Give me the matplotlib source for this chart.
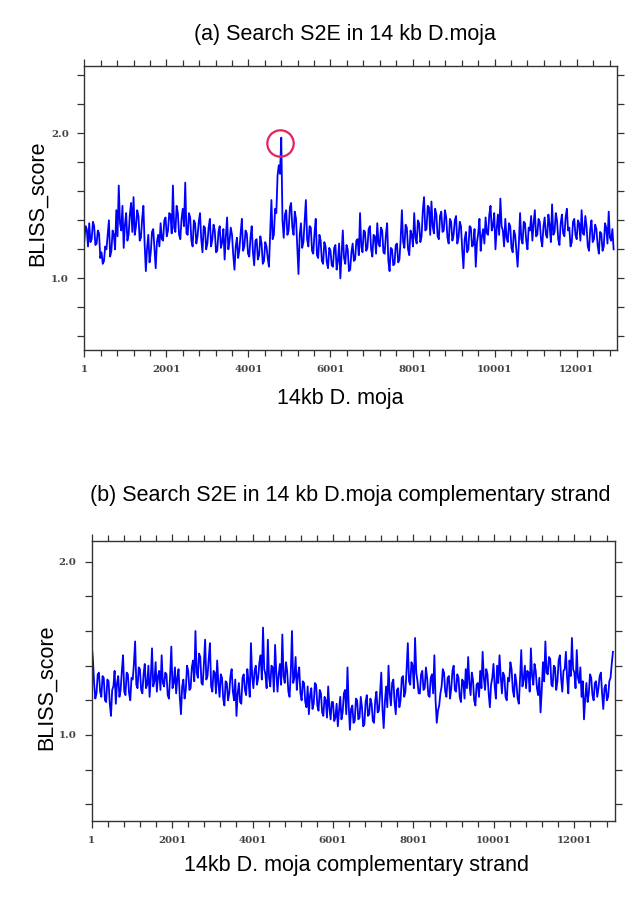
import numpy as np
import matplotlib.pyplot as plt
from matplotlib.ticker import FixedLocator, FixedFormatter

# BLISS score along the 14 kb D. moja sequence, one value every 30 bp
score_fwd = [
    1.26, 1.36, 1.34, 1.22, 1.38, 1.25, 1.27, 1.39, 1.36, 1.23, 1.24, 1.33, 1.31, 1.14, 1.18, 1.10, 1.12, 1.22, 1.20, 1.30,
    1.40, 1.15, 1.19, 1.33, 1.30, 1.20, 1.47, 1.29, 1.64, 1.38, 1.33, 1.50, 1.21, 1.37, 1.45, 1.26, 1.30, 1.44, 1.52, 1.32,
    1.56, 1.30, 1.36, 1.47, 1.43, 1.26, 1.28, 1.41, 1.50, 1.24, 1.05, 1.21, 1.30, 1.11, 1.18, 1.32, 1.34, 1.20, 1.07, 1.25,
    1.30, 1.22, 1.38, 1.27, 1.26, 1.40, 1.42, 1.29, 1.33, 1.45, 1.44, 1.31, 1.64, 1.35, 1.32, 1.50, 1.45, 1.30, 1.27, 1.41,
    1.48, 1.36, 1.66, 1.31, 1.30, 1.45, 1.42, 1.26, 1.22, 1.40, 1.38, 1.24, 1.29, 1.39, 1.45, 1.27, 1.18, 1.36, 1.35, 1.20,
    1.24, 1.35, 1.41, 1.22, 1.27, 1.37, 1.33, 1.18, 1.19, 1.32, 1.36, 1.21, 1.25, 1.34, 1.13, 1.29, 1.42, 1.20, 1.26, 1.35,
    1.30, 1.16, 1.06, 1.22, 1.28, 1.14, 1.20, 1.31, 1.41, 1.19, 1.22, 1.33, 1.31, 1.17, 1.15, 1.28, 1.36, 1.18, 1.09, 1.26,
    1.27, 1.13, 1.16, 1.29, 1.24, 1.10, 1.12, 1.25, 1.22, 1.14, 1.08, 1.31, 1.54, 1.27, 1.30, 1.48, 1.45, 1.71, 1.78, 1.72,
    1.97, 1.40, 1.28, 1.44, 1.47, 1.30, 1.33, 1.49, 1.52, 1.35, 1.30, 1.46, 1.41, 1.22, 1.03, 1.30, 1.38, 1.21, 1.25, 1.39,
    1.54, 1.27, 1.22, 1.36, 1.35, 1.19, 1.17, 1.31, 1.41, 1.16, 1.14, 1.30, 1.26, 1.12, 1.10, 1.25, 1.22, 1.11, 1.07, 1.21,
    1.19, 1.09, 1.08, 1.21, 1.23, 1.06, 1.12, 1.24, 1.00, 1.16, 1.33, 1.14, 1.10, 1.23, 1.20, 1.05, 1.06, 1.18, 1.24, 1.12,
    1.13, 1.26, 1.27, 1.16, 1.45, 1.22, 1.18, 1.33, 1.32, 1.19, 1.21, 1.34, 1.36, 1.20, 1.15, 1.30, 1.29, 1.17, 1.38, 1.24,
    1.22, 1.35, 1.33, 1.18, 1.17, 1.30, 1.38, 1.12, 1.05, 1.21, 1.20, 1.09, 1.10, 1.23, 1.24, 1.11, 1.13, 1.27, 1.47, 1.25,
    1.21, 1.37, 1.35, 1.20, 1.16, 1.33, 1.30, 1.22, 1.45, 1.28, 1.24, 1.40, 1.38, 1.25, 1.29, 1.47, 1.56, 1.33, 1.34, 1.50,
    1.49, 1.30, 1.53, 1.36, 1.31, 1.48, 1.44, 1.29, 1.27, 1.43, 1.46, 1.32, 1.33, 1.47, 1.42, 1.28, 1.24, 1.41, 1.39, 1.26,
    1.30, 1.40, 1.43, 1.24, 1.28, 1.39, 1.36, 1.20, 1.07, 1.27, 1.32, 1.18, 1.20, 1.36, 1.35, 1.22, 1.23, 1.34, 1.08, 1.25,
    1.31, 1.41, 1.19, 1.29, 1.34, 1.24, 1.42, 1.31, 1.30, 1.44, 1.50, 1.33, 1.36, 1.45, 1.20, 1.34, 1.44, 1.30, 1.55, 1.36,
    1.33, 1.22, 1.41, 1.28, 1.25, 1.38, 1.36, 1.21, 1.18, 1.33, 1.30, 1.19, 1.08, 1.24, 1.45, 1.27, 1.24, 1.39, 1.38, 1.26,
    1.20, 1.35, 1.33, 1.43, 1.26, 1.38, 1.47, 1.29, 1.30, 1.41, 1.39, 1.27, 1.22, 1.36, 1.42, 1.30, 1.28, 1.44, 1.37, 1.25,
    1.51, 1.30, 1.32, 1.45, 1.40, 1.27, 1.23, 1.38, 1.44, 1.31, 1.29, 1.42, 1.48, 1.33, 1.35, 1.22, 1.25, 1.39, 1.41, 1.30,
    1.27, 1.40, 1.38, 1.26, 1.47, 1.31, 1.30, 1.43, 1.36, 1.22, 1.19, 1.34, 1.40, 1.25, 1.27, 1.37, 1.34, 1.23, 1.17, 1.32,
    1.31, 1.19, 1.22, 1.38, 1.35, 1.24, 1.46, 1.28, 1.26, 1.34, 1.20,
]

# same scan on the complementary strand
score_rev = [
    1.52, 1.44, 1.30, 1.21, 1.24, 1.35, 1.36, 1.25, 1.22, 1.34, 1.33, 1.20, 1.19, 1.32, 1.31, 1.18, 1.11, 1.26, 1.28, 1.37,
    1.18, 1.30, 1.34, 1.22, 1.26, 1.37, 1.46, 1.25, 1.23, 1.36, 1.35, 1.24, 1.20, 1.33, 1.32, 1.41, 1.54, 1.29, 1.27, 1.39,
    1.38, 1.26, 1.24, 1.35, 1.41, 1.27, 1.29, 1.40, 1.22, 1.33, 1.50, 1.28, 1.31, 1.42, 1.25, 1.34, 1.37, 1.26, 1.46, 1.30,
    1.28, 1.36, 1.35, 1.23, 1.21, 1.34, 1.51, 1.27, 1.30, 1.39, 1.24, 1.33, 1.38, 1.22, 1.12, 1.28, 1.32, 1.21, 1.26, 1.40,
    1.37, 1.26, 1.27, 1.39, 1.43, 1.31, 1.60, 1.36, 1.33, 1.47, 1.45, 1.30, 1.29, 1.41, 1.55, 1.32, 1.34, 1.44, 1.53, 1.28,
    1.25, 1.37, 1.36, 1.24, 1.43, 1.30, 1.22, 1.35, 1.33, 1.21, 1.17, 1.31, 1.30, 1.20, 1.24, 1.34, 1.38, 1.25, 1.20, 1.32,
    1.11, 1.24, 1.30, 1.19, 1.18, 1.33, 1.35, 1.26, 1.23, 1.38, 1.31, 1.22, 1.53, 1.34, 1.27, 1.37, 1.40, 1.29, 1.33, 1.42,
    1.46, 1.32, 1.62, 1.38, 1.35, 1.27, 1.55, 1.33, 1.28, 1.40, 1.39, 1.25, 1.52, 1.36, 1.25, 1.35, 1.41, 1.29, 1.58, 1.34,
    1.30, 1.42, 1.37, 1.25, 1.22, 1.36, 1.60, 1.30, 1.33, 1.45, 1.26, 1.35, 1.39, 1.24, 1.20, 1.31, 1.30, 1.19, 1.16, 1.28,
    1.12, 1.23, 1.27, 1.15, 1.18, 1.30, 1.29, 1.17, 1.14, 1.26, 1.24, 1.13, 1.11, 1.22, 1.20, 1.10, 1.28, 1.16, 1.09, 1.19,
    1.19, 1.08, 1.10, 1.18, 1.05, 1.14, 1.22, 1.09, 1.13, 1.24, 1.26, 1.12, 1.39, 1.17, 1.03, 1.15, 1.17, 1.07, 1.08, 1.21,
    1.20, 1.09, 1.10, 1.22, 1.16, 1.05, 1.06, 1.19, 1.23, 1.11, 1.12, 1.21, 1.18, 1.08, 1.07, 1.20, 1.25, 1.13, 1.14, 1.24,
    1.36, 1.15, 1.04, 1.19, 1.28, 1.16, 1.40, 1.24, 1.17, 1.30, 1.32, 1.19, 1.12, 1.26, 1.27, 1.16, 1.20, 1.33, 1.34, 1.22,
    1.25, 1.38, 1.53, 1.31, 1.29, 1.42, 1.40, 1.27, 1.56, 1.36, 1.31, 1.24, 1.24, 1.35, 1.37, 1.26, 1.27, 1.39, 1.33, 1.23,
    1.22, 1.33, 1.35, 1.24, 1.46, 1.20, 1.07, 1.14, 1.17, 1.24, 1.28, 1.38, 1.36, 1.25, 1.22, 1.33, 1.34, 1.21, 1.27, 1.37,
    1.40, 1.26, 1.25, 1.35, 1.33, 1.22, 1.19, 1.32, 1.31, 1.21, 1.38, 1.27, 1.45, 1.30, 1.23, 1.36, 1.32, 1.20, 1.17, 1.29,
    1.30, 1.22, 1.37, 1.27, 1.48, 1.33, 1.26, 1.38, 1.35, 1.24, 1.16, 1.29, 1.33, 1.41, 1.28, 1.21, 1.40, 1.30, 1.46, 1.34,
    1.24, 1.36, 1.34, 1.22, 1.20, 1.33, 1.31, 1.42, 1.38, 1.26, 1.22, 1.35, 1.30, 1.21, 1.18, 1.32, 1.49, 1.28, 1.32, 1.40,
    1.27, 1.37, 1.36, 1.25, 1.50, 1.34, 1.29, 1.41, 1.37, 1.27, 1.23, 1.33, 1.13, 1.26, 1.42, 1.31, 1.54, 1.36, 1.35, 1.45,
    1.44, 1.29, 1.28, 1.40, 1.39, 1.26, 1.31, 1.43, 1.46, 1.33, 1.25, 1.37, 1.38, 1.48, 1.33, 1.24, 1.43, 1.34, 1.56, 1.38,
    1.36, 1.27, 1.49, 1.33, 1.30, 1.39, 1.22, 1.31, 1.09, 1.21, 1.30, 1.19, 1.24, 1.35, 1.33, 1.23, 1.20, 1.30, 1.31, 1.22,
    1.27, 1.34, 1.36, 1.24, 1.15, 1.27, 1.29, 1.20, 1.22, 1.31, 1.33, 1.41, 1.48,
]

step = 30
pos_fwd = 1 + step * np.arange(len(score_fwd))
pos_rev = 1 + step * np.arange(len(score_rev))

# highlighted S2E hit on the forward strand
hit_pos = 4771
hit_score = 1.93

xticks = [1, 2001, 4001, 6001, 8001, 10001, 12001]
minor_x = list(range(1, 13000, 400))
label_font = dict(family="Liberation Sans", fontsize=15.5)
tick_font = dict(family="DejaVu Serif", size=7.4, weight="bold")

fig = plt.figure(figsize=(6.42, 8.97), dpi=100)
ax1 = fig.add_axes([0.1313, 0.6098, 0.8293, 0.3166])
ax2 = fig.add_axes([0.1428, 0.0847, 0.8152, 0.3122])


def style_axis(ax, ylim, xmax):
    ax.set_xlim(1, xmax)
    ax.set_ylim(*ylim)
    yt = np.round(np.arange(0.6, ylim[1], 0.2), 1)
    ax.yaxis.set_major_locator(FixedLocator(yt))
    ax.yaxis.set_major_formatter(FixedFormatter(
        ["%.1f" % v if v in (1.0, 2.0) else "" for v in yt]))
    ax.xaxis.set_major_locator(FixedLocator(xticks))
    ax.xaxis.set_minor_locator(FixedLocator(minor_x))
    ax.set_xticklabels([str(v) for v in xticks])
    ax.tick_params(which="both", direction="out", top=True, right=True,
                   colors="#333333", width=0.9, pad=6)
    ax.tick_params(which="major", length=5)
    ax.tick_params(which="minor", length=4)
    for lab in ax.get_xticklabels() + ax.get_yticklabels():
        lab.set_fontfamily(tick_font["family"])
        lab.set_fontsize(tick_font["size"])
        lab.set_fontweight(tick_font["weight"])
        lab.set_color("#444444")
    for sp in ax.spines.values():
        sp.set_color("#333333")
        sp.set_linewidth(1.0)


ax1.plot(pos_fwd, score_fwd, color="#0000ff", lw=1.3)
ax1.plot(hit_pos, hit_score, "o", ms=19, mfc="none", mec="#e3245a", mew=1.6)
style_axis(ax1, (0.506, 2.464), 12976)

ax2.plot(pos_rev, score_rev, color="#0000ff", lw=1.3)
style_axis(ax2, (0.503, 2.12), 13013)

fig.text(0.537, 0.962, "(a) Search S2E in 14 kb D.moja", ha="center", va="center", **label_font)
fig.text(0.530, 0.556, "14kb D. moja", ha="center", va="center", **label_font)
fig.text(0.058, 0.773, "BLISS_score", rotation=90, ha="center", va="center", **label_font)

fig.text(0.545, 0.448, "(b) Search S2E in 14 kb D.moja complementary strand",
         ha="center", va="center", **label_font)
fig.text(0.556, 0.035, "14kb D. moja complementary strand", ha="center", va="center", **label_font)
fig.text(0.073, 0.234, "BLISS_score", rotation=90, ha="center", va="center", **label_font)

fig.savefig("out.png", dpi=100, facecolor="white")
